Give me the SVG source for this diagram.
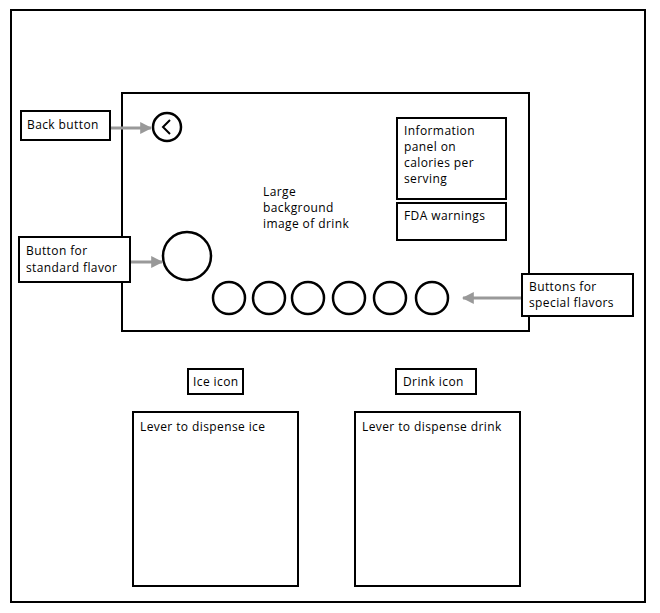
<svg xmlns="http://www.w3.org/2000/svg" width="660" height="613" viewBox="0 0 660 613">
<style>
.box{fill:#fff;stroke:#000;stroke-width:2}
.c{fill:#fff;stroke:#000;stroke-width:2.5}
.t{font-family:"Open Sans","DejaVu Sans",sans-serif;font-size:12px;letter-spacing:0.4px;fill:#000}
.a{stroke:#999;stroke-width:3;fill:none}
</style>
<defs>
<marker id="ah" viewBox="0 0 10 10" refX="9" refY="5" markerWidth="4" markerHeight="4" orient="auto" markerUnits="strokeWidth">
<path d="M0,0 L10,5 L0,10 z" fill="#999"/>
</marker>
</defs>
<rect width="660" height="613" fill="#fff"/>
<g id="frame"><rect class="box" x="11" y="10" width="634" height="592"/></g>
<g id="panel"><rect class="box" x="122" y="93" width="407" height="238"/></g>
<g id="bg-text"><text class="t"><tspan x="263" y="196">Large</tspan><tspan x="263" y="212">background</tspan><tspan x="263" y="228">image of drink</tspan></text></g>
<g id="back-label"><rect class="box" x="21" y="111" width="89" height="29"/><text class="t" x="27" y="129">Back button</text></g>
<g id="back-btn"><circle class="c" cx="167" cy="127" r="14"/><path d="M170,120 L163,127 L170,134" fill="none" stroke="#000" stroke-width="2"/></g>
<g id="std-label"><rect class="box" x="19" y="237" width="111" height="45"/><text class="t"><tspan x="26" y="255">Button for</tspan><tspan x="26" y="272">standard flavor</tspan></text></g>
<g id="std-btn"><circle class="c" cx="187" cy="256" r="24"/></g>
<g id="info"><rect class="box" x="397" y="118" width="109" height="81"/><text class="t"><tspan x="404" y="135">Information</tspan><tspan x="404" y="151">panel on</tspan><tspan x="404" y="167">calories per</tspan><tspan x="404" y="183">serving</tspan></text></g>
<g id="fda"><rect class="box" x="397" y="203" width="109" height="37"/><text class="t" x="404" y="220">FDA warnings</text></g>
<g id="special-btns">
<circle class="c" cx="229" cy="298" r="16"/><circle class="c" cx="269" cy="298" r="16"/><circle class="c" cx="308" cy="298" r="16"/><circle class="c" cx="349" cy="298" r="16"/><circle class="c" cx="390" cy="298" r="16"/><circle class="c" cx="432" cy="298" r="16"/>
</g>
<g id="special-label"><rect class="box" x="522" y="274" width="111" height="42"/><text class="t"><tspan x="529" y="291">Buttons for</tspan><tspan x="529" y="307">special flavors</tspan></text></g>
<g id="ice-icon"><rect class="box" x="188" y="369" width="55" height="25"/><text class="t" x="193" y="386">Ice icon</text></g>
<g id="drink-icon"><rect class="box" x="396" y="369" width="80" height="25"/><text class="t" x="403" y="386">Drink icon</text></g>
<g id="lever-ice"><rect class="box" x="133" y="412" width="165" height="174"/><text class="t" x="140" y="431">Lever to dispense ice</text></g>
<g id="lever-drink"><rect class="box" x="355" y="412" width="165" height="174"/><text class="t" x="362" y="431">Lever to dispense drink</text></g>
<g id="connectors">
<line class="a" x1="111" y1="128" x2="151" y2="128" marker-end="url(#ah)"/>
<line class="a" x1="131" y1="262" x2="162" y2="262" marker-end="url(#ah)"/>
<line class="a" x1="521" y1="298" x2="463" y2="298" marker-end="url(#ah)"/>
</g>
</svg>
